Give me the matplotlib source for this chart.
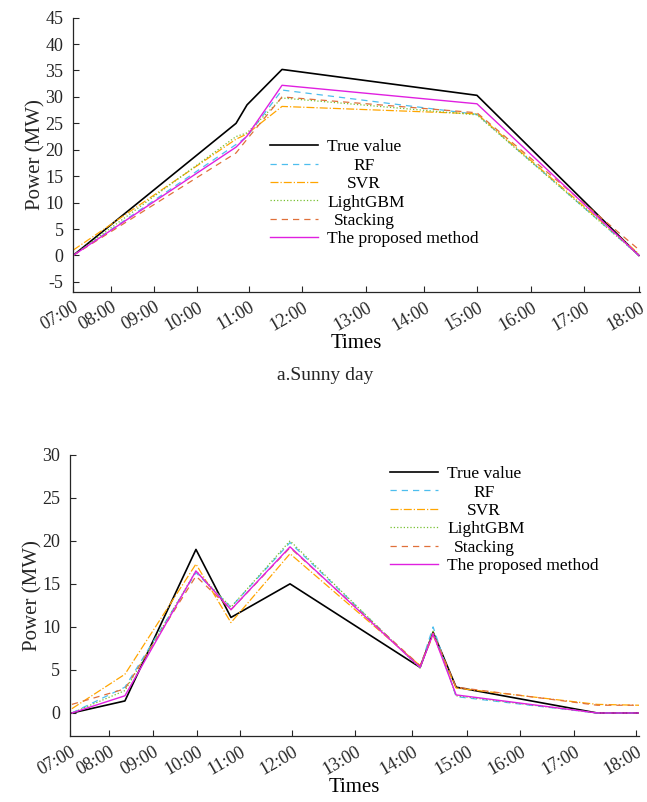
import numpy as np
import matplotlib
matplotlib.use("Agg")
import matplotlib.pyplot as plt
import matplotlib.transforms as mtransforms

plt.rcParams["font.family"] = ["Liberation Serif", "DejaVu Serif"]
plt.rcParams["axes.unicode_minus"] = False

# %% data
tick_labels = ["07:00", "08:00", "09:00", "10:00", "11:00", "12:00",
               "13:00", "14:00", "15:00", "16:00", "17:00", "18:00"]

# sunny day: sample positions on the time axis (uneven sampling)
sunny_ticks = [0, 38, 81, 124, 176, 229, 293, 351, 404, 458, 511, 566]
sunny_x = [0, 163, 174, 209, 404, 566]
sunny_true = [0, 25.0, 28.5, 35.2, 30.3, 0]
sunny_rf = [0, 21.0, 22.5, 31.3, 26.7, 0]
sunny_svr = [1.0, 22.0, 23.0, 28.2, 26.8, 0.3]
sunny_lgbm = [0, 22.5, 23.2, 29.8, 26.6, 0]
sunny_stack = [0, 19.4, 22.0, 30.0, 27.0, 1.1]
sunny_prop = [0, 20.5, 22.6, 32.2, 28.7, 0]

# second day
cloud_ticks = [0, 39, 83, 127, 170, 222, 285, 342, 397, 450, 504, 566]
cloud_x = [2, 55, 126, 161, 220, 350, 363, 386, 527, 569]
cloud_true = [0, 1.4, 19.0, 11.1, 15.0, 5.3, 9.4, 3.0, 0, 0]
cloud_rf = [0, 3.0, 16.3, 12.3, 19.8, 5.3, 10.0, 1.9, 0, 0]
cloud_svr = [0.5, 4.5, 17.3, 10.5, 18.5, 5.5, 9.0, 2.9, 1.0, 0.9]
cloud_lgbm = [0, 2.6, 16.5, 12.3, 20.0, 5.2, 9.5, 2.0, 0, 0]
cloud_stack = [1.0, 2.8, 15.9, 12.0, 19.2, 5.5, 9.3, 3.0, 0.9, 0.9]
cloud_prop = [0, 2.0, 16.5, 12.0, 19.3, 5.3, 9.2, 2.1, 0, 0]

labels = ["True value", "RF", "SVR", "LightGBM", "Stacking", "The proposed method"]
styles = [
    dict(color="black", ls="-", lw=1.2),
    dict(color="#4DBEEE", ls=(0, (5, 4)), lw=0.9),
    dict(color="#FFA500", ls="-.", lw=0.9),
    dict(color="#77C030", ls=":", lw=0.9),
    dict(color="#E0703A", ls=(0, (5, 4)), lw=0.9),
    dict(color="#E020E0", ls="-", lw=1.0),
]

fig = plt.figure(figsize=(6.47, 8.02), dpi=100)
ax1 = fig.add_axes([0.113, 0.636, 0.876, 0.342])
ax2 = fig.add_axes([0.108, 0.082, 0.880, 0.351])

def center_legend(leg):
    # matlab-like legend: short labels centred on the first one
    fig.canvas.draw()
    r = fig.canvas.get_renderer()
    texts = leg.get_texts()
    widths = [t.get_window_extent(r).width for t in texts]
    w0 = widths[0]
    for t, wi in zip(texts, widths):
        t.set_position((max(0, (w0 - wi) / 2), 0))

def style_ax(ax, ticks, xlim, ylim, yticks, legpos):
    ax.set_xlim(*xlim)
    ax.set_ylim(*ylim)
    ax.set_yticks(yticks)
    ax.set_xticks(ticks)
    ax.set_xticklabels(tick_labels, rotation=30, ha="right", rotation_mode="anchor")
    shift = mtransforms.ScaledTranslation(7 / 100, 0, fig.dpi_scale_trans)
    for lab in ax.get_xticklabels():
        lab.set_transform(lab.get_transform() + shift)
    ax.tick_params(direction="in", length=4, width=0.8, labelsize=13,
                   colors="#262626")
    ax.tick_params(axis="y", pad=7)
    ax.tick_params(axis="x", pad=5)
    for s in ["top", "right"]:
        ax.spines[s].set_visible(False)
    for s in ["left", "bottom"]:
        ax.spines[s].set_color("#262626")
        ax.spines[s].set_linewidth(0.9)
    ax.set_ylabel("Power (MW)", fontsize=15, color="#262626", labelpad=0)
    ax.set_xlabel("Times", fontsize=15, color="black", labelpad=0)
    leg = ax.legend(loc="upper left", bbox_to_anchor=legpos, frameon=False,
                    fontsize=12.5, handlelength=2.8, handletextpad=0.5,
                    labelspacing=0.13, borderpad=0, borderaxespad=0)
    return leg

for ys, st, lb in zip([sunny_true, sunny_rf, sunny_svr, sunny_lgbm, sunny_stack, sunny_prop],
                      styles, labels):
    ax1.plot(sunny_x, ys, label=lb, **st)
leg1 = style_ax(ax1, sunny_ticks, (0, 567), (-6.9, 45), np.arange(-5, 46, 5), (0.347, 0.557))

for ys, st, lb in zip([cloud_true, cloud_rf, cloud_svr, cloud_lgbm, cloud_stack, cloud_prop],
                      styles, labels):
    ax2.plot(cloud_x, ys, label=lb, **st)
leg2 = style_ax(ax2, cloud_ticks, (0, 569), (-2.7, 30), np.arange(0, 31, 5), (0.562, 0.96))

fig.text(0.502, 0.532, "a.Sunny day", ha="center", va="center", fontsize=14, color="#262626")

center_legend(leg1)
center_legend(leg2)

fig.savefig("out.png", dpi=100, facecolor="white")
